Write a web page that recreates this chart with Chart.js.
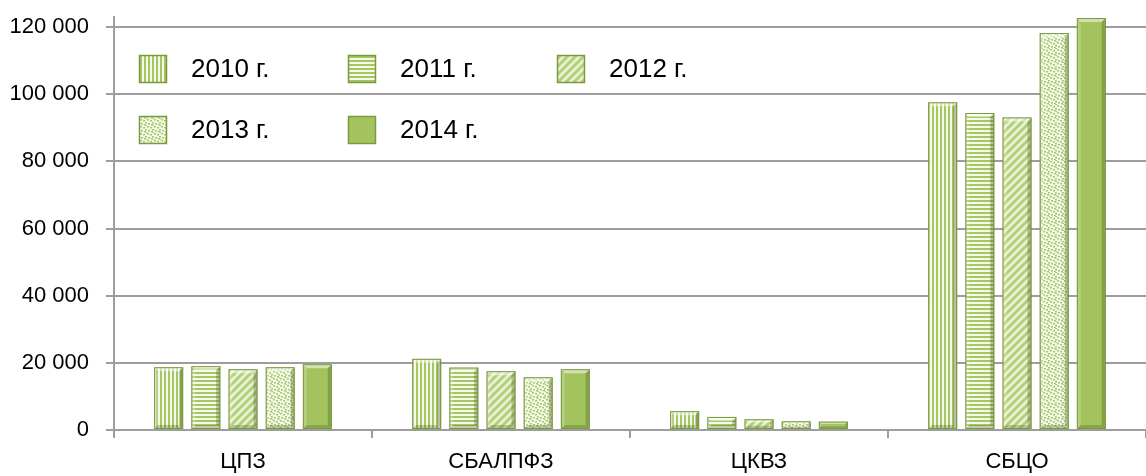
<!DOCTYPE html>
<html>
<head>
<meta charset="utf-8">
<script src="https://cdn.jsdelivr.net/npm/chart.js@4/dist/chart.umd.min.js"></script>
<style>
	html, body { margin: 0; padding: 0; background: #fff; }
	canvas { display: block; }
</style>
</head>
<body>
<canvas id="chart" width="1146" height="476"></canvas>
<script>
const categories = ["ЦПЗ", "СБАЛПФЗ", "ЦКВЗ", "СБЦО"];
const seriesLabels = ["2010 г.", "2011 г.", "2012 г.", "2013 г.", "2014 г."];
const values2010 = [18700, 21200, 5600, 97600];
const values2011 = [19000, 18600, 3900, 94400];
const values2012 = [18100, 17500, 3200, 93100];
const values2013 = [18700, 15700, 2600, 118200];
const values2014 = [19600, 18100, 2500, 122700];
const yTicks = [0, 20000, 40000, 60000, 80000, 100000, 120000];

const FONT = "'Liberation Sans', Arial, sans-serif";
const GREEN = "#a3c35e";
const EDGE = "#7b9a3e";
const GRID = "#9d9d9d";

function makePattern(kind) {
	const c = document.createElement("canvas");
	const g = c.getContext("2d");
	if (kind === "vertical" || kind === "horizontal") {
		c.width = 4; c.height = 4;
		g.fillStyle = "#f4f9e9";
		g.fillRect(0, 0, 4, 4);
		g.fillStyle = "#a6c663";
		if (kind === "vertical") g.fillRect(0, 0, 2, 4);
		else g.fillRect(0, 0, 4, 2);
	} else if (kind === "diagonal") {
		c.width = 8; c.height = 8;
		g.fillStyle = "#e8f1d4";
		g.fillRect(0, 0, 8, 8);
		g.strokeStyle = "#b3cf78";
		g.lineWidth = 3;
		for (const o of [-8, 0, 8]) {
			g.beginPath();
			g.moveTo(o - 1, 9);
			g.lineTo(o + 9, -1);
			g.stroke();
		}
	} else if (kind === "dots") {
		c.width = 7; c.height = 7;
		g.fillStyle = "#f3f8e8";
		g.fillRect(0, 0, 7, 7);
		g.fillStyle = "#a9c86c";
		[[0, 0], [3, 1], [5, 3], [1, 4], [4, 5], [6, 6]].forEach(([x, y]) => g.fillRect(x, y, 2, 1.5));
	} else {
		return GREEN;
	}
	return g.createPattern(c, "repeat");
}

const patternKinds = ["vertical", "horizontal", "diagonal", "dots", "solid"];
const seriesValues = [values2010, values2011, values2012, values2013, values2014];

const datasets = seriesLabels.map((label, i) => ({
	label: label,
	data: seriesValues[i],
	backgroundColor: makePattern(patternKinds[i]),
	borderColor: EDGE,
	borderWidth: 1,
	barPercentage: 0.78,
	categoryPercentage: 0.72,
}));

// little bevel on every bar, like the office 3D look
const bevelPlugin = {
	id: "bevel",
	afterDatasetsDraw(chart) {
		const ctx = chart.ctx;
		chart.data.datasets.forEach((ds, i) => {
			chart.getDatasetMeta(i).data.forEach((bar) => {
				const l = bar.x - bar.width / 2, r = bar.x + bar.width / 2;
				const t = bar.y, b = bar.base;
				const d = Math.min(4, (b - t) / 3);
				const quad = (pts, color) => {
					ctx.beginPath();
					ctx.moveTo(pts[0][0], pts[0][1]);
					pts.slice(1).forEach((p) => ctx.lineTo(p[0], p[1]));
					ctx.closePath();
					ctx.fillStyle = color;
					ctx.fill();
				};
				ctx.save();
				quad([[l, t], [r, t], [r - d, t + d], [l + d, t + d]], "rgba(255,255,255,0.5)");
				quad([[l, t], [l + d, t + d], [l + d, b - d], [l, b]], "rgba(255,255,255,0.2)");
				quad([[r, t], [r, b], [r - d, b - d], [r - d, t + d]], "rgba(70,95,25,0.35)");
				quad([[l, b], [r, b], [r - d, b - d], [l + d, b - d]], "rgba(70,95,25,0.3)");
				ctx.strokeStyle = EDGE;
				ctx.lineWidth = 1;
				ctx.strokeRect(l + 0.5, t + 0.5, r - l - 1, b - t - 1);
				ctx.restore();
			});
		});
	},
};

// legend laid out as 3 columns inside the plot area
const gridLegend = {
	id: "gridLegend",
	afterDraw(chart) {
		const ctx = chart.ctx;
		const area = chart.chartArea;
		const box = 28;
		chart.data.datasets.forEach((ds, i) => {
			const col = i % 3, row = Math.floor(i / 3);
			const x = area.left + 25 + col * 209;
			const cy = area.top + 52 + row * 61;
			ctx.save();
			ctx.fillStyle = ds.backgroundColor;
			ctx.fillRect(x, cy - box / 2, box, box);
			ctx.strokeStyle = EDGE;
			ctx.lineWidth = 1.5;
			ctx.strokeRect(x + 0.5, cy - box / 2 + 0.5, box - 1, box - 1);
			ctx.fillStyle = "#000";
			ctx.font = "26px " + FONT;
			ctx.textBaseline = "middle";
			ctx.fillText(ds.label, x + 52, cy + 1);
			ctx.restore();
		});
	},
};

const formatTick = (v) => String(v).replace(/\B(?=(\d{3})+(?!\d))/g, " ");

new Chart(document.getElementById("chart"), {
	type: "bar",
	data: { labels: categories, datasets: datasets },
	options: {
		responsive: false,
		animation: false,
		layout: { padding: { top: 17, left: 0, right: 0, bottom: 0 } },
		plugins: { legend: { display: false }, tooltip: { enabled: false } },
		scales: {
			x: {
				grid: { drawOnChartArea: false, drawTicks: true, tickLength: 8, color: GRID, lineWidth: 2 },
				border: { color: GRID, width: 2 },
				ticks: { color: "#000", font: { family: FONT, size: 22 }, padding: 11 },
				afterFit(scale) {
					scale.height = 46;
					scale.paddingLeft = 0;
					scale.paddingRight = 0;
				},
			},
			y: {
				min: 0,
				max: 123000,
				grid: { color: GRID, lineWidth: 2, tickLength: 8 },
				border: { color: GRID, width: 2 },
				ticks: { color: "#000", font: { family: FONT, size: 22 }, padding: 17, callback: (v) => formatTick(v) },
				afterBuildTicks(scale) {
					scale.ticks = yTicks.map((v) => ({ value: v }));
				},
				afterFit(scale) {
					scale.width = 114;
					scale.paddingTop = 0;
					scale.paddingBottom = 0;
				},
			},
		},
	},
	plugins: [bevelPlugin, gridLegend],
});
</script>
</body>
</html>
